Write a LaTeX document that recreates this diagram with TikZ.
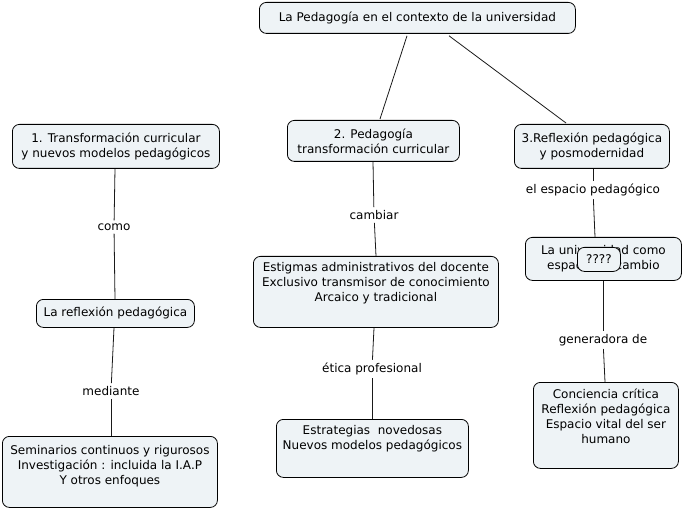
\documentclass[tikz,border=0pt]{standalone}
\usepackage{fontspec}
\setmainfont{DejaVu Sans}
\usetikzlibrary{calc}
\definecolor{boxfill}{HTML}{EEF3F6}
\definecolor{lnk}{HTML}{1A1A1A}
\tikzset{
  cbox/.style={draw=black, fill=boxfill, rounded corners=7pt, line width=0.8pt, inner sep=0pt, anchor=north west},
  ctext/.style={align=center, inner sep=0pt, font=\fontsize{12}{15}\selectfont},
  lbl/.style={fill=white, inner sep=3pt, font=\fontsize{12}{15}\selectfont},
  conn/.style={draw=lnk, line width=0.8pt}
}
\begin{document}
\begin{tikzpicture}[x=1pt,y=-1pt]
\useasboundingbox (0,0) rectangle (684,510);
% boxes
\node[cbox, minimum width=316pt, minimum height=31pt] (top) at (259,2) {};
\node[ctext] (ttop) at (top.center) {La Pedagogía en el contexto de la universidad};

\node[cbox, minimum width=207pt, minimum height=44pt] (b1) at (12,124) {};
\node[ctext] (tb1) at (b1.center) {1. Transformación curricular\\ y nuevos modelos pedagógicos};

\node[cbox, minimum width=172pt, minimum height=41pt] (b2) at (287,120) {};
\node[ctext] (tb2) at (b2.center) {2. Pedagogía\\transformación curricular};

\node[cbox, minimum width=155pt, minimum height=44pt] (b3) at (514,124) {};
\node[ctext] (tb3) at (b3.center) {3.Reflexión pedagógica\\y posmodernidad};

\node[cbox, minimum width=158pt, minimum height=28pt] (refl) at (36,299) {};
\node[ctext] (trefl) at (refl.center) {La reflexión pedagógica};

\node[cbox, minimum width=215pt, minimum height=71pt] (sem) at (2,436) {};
\node[ctext, anchor=north] (tsem) at ($(sem.north)+(0,9)$) {Seminarios continuos y rigurosos\\Investigación : incluida la I.A.P\\Y otros enfoques};

\node[cbox, minimum width=245pt, minimum height=71pt] (est) at (253,256) {};
\node[ctext, anchor=north] (test) at ($(est.north)+(0,6)$) {Estigmas administrativos del docente\\Exclusivo transmisor de conocimiento\\Arcaico y tradicional};

\node[cbox, minimum width=192pt, minimum height=58pt] (estr) at (276,419) {};
\node[ctext, anchor=north] (testr) at ($(estr.north)+(0,6)$) {Estrategias\ \ novedosas\\Nuevos modelos pedagógicos};

\node[cbox, minimum width=156pt, minimum height=43pt] (univ) at (525,237) {};
\node[ctext] (tuniv) at (univ.center) {La universidad como\\espacio de cambio};
\node[cbox, minimum width=43pt, minimum height=24pt] (q) at (577,247) {};
\node[ctext] (tq) at (q.center) {????};

\node[cbox, minimum width=145pt, minimum height=86pt] (conc) at (533,382) {};
\node[ctext, anchor=north] (tconc) at ($(conc.north)+(0,7)$) {Conciencia crítica\\Reflexión pedagógica\\Espacio vital del ser\\humano};

% labels
\node[lbl] (lcomo) at (114,227) {como};
\node[lbl] (lmed) at (111,391) {mediante};
\node[lbl] (lcamb) at (374,215) {cambiar};
\node[lbl] (letic) at (372,369) {ética profesional};
\node[lbl] (lesp) at (593,190) {el espacio pedagógico};
\node[lbl] (lgen) at (603,340) {generadora de};

% connectors
\draw[conn] ($(top.south west)+(148,2)$) -- ($(b2.north west)+(93,-1)$);
\draw[conn] ($(top.south west)+(190,2)$) -- ($(b3.north west)+(52,-1)$);
\draw[conn] ($(b1.south west)+(103,0)$) -- (lcomo);
\draw[conn] (lcomo) -- ($(refl.north west)+(79,0)$);
\draw[conn] ($(refl.south west)+(78,0)$) -- (lmed);
\draw[conn] (lmed) -- ($(sem.north west)+(109,0)$);
\draw[conn] ($(b2.south west)+(86,0)$) -- (lcamb);
\draw[conn] (lcamb) -- ($(est.north west)+(123,0)$);
\draw[conn] ($(est.south west)+(121,0)$) -- (letic);
\draw[conn] (letic) -- ($(estr.north west)+(96,0)$);
\draw[conn] ($(b3.south west)+(79,0)$) -- (lesp);
\draw[conn] (lesp) -- ($(univ.north west)+(70,0)$);
\draw[conn] ($(univ.south west)+(78,0)$) -- (lgen);
\draw[conn] (lgen) -- ($(conc.north west)+(72,0)$);
\end{tikzpicture}
\end{document}
